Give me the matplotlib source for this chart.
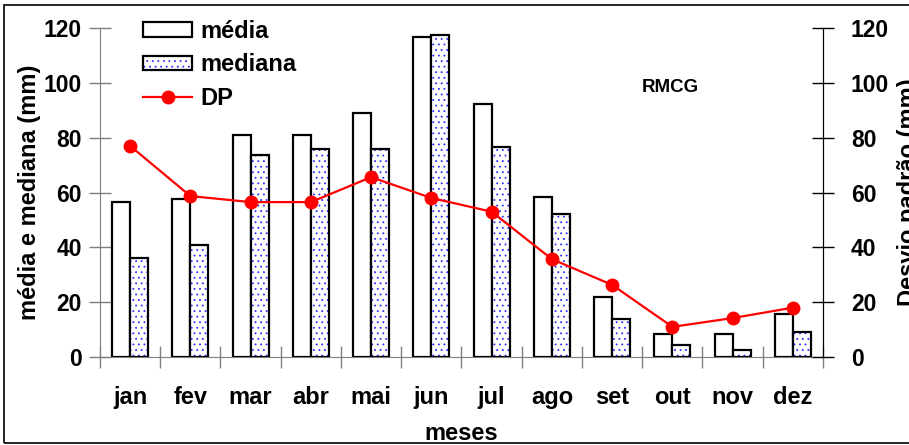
import numpy as np
import matplotlib.pyplot as plt
from matplotlib.patches import Patch, Rectangle
from matplotlib.lines import Line2D
from matplotlib.legend_handler import HandlerTuple

plt.rcParams['font.family'] = ['Liberation Sans', 'DejaVu Sans']
plt.rcParams['font.weight'] = 'bold'
plt.rcParams['hatch.linewidth'] = 0.6

# --- dados ---
meses = ['jan', 'fev', 'mar', 'abr', 'mai', 'jun', 'jul', 'ago', 'set', 'out', 'nov', 'dez']
media = [56.5, 57.6, 81, 81, 89, 116.7, 92.3, 58.4, 22, 8.4, 8.4, 15.7]
mediana = [36, 41, 73.7, 76, 76, 117.4, 76.6, 52, 14, 4.4, 2.5, 9]
dp = [77, 58.7, 56.5, 56.5, 65.6, 58, 53, 35.7, 26.3, 11, 14.2, 18]

W, H = 909, 445
fig = plt.figure(figsize=(W / 100, H / 100), dpi=100)
ax = fig.add_axes([100 / W, 1 - 357 / H, 723 / W, 329 / H])
ax2 = ax.twinx()

DOT = '#3030ff'
x = np.arange(len(meses))
bw = 0.3
ax.bar(x - bw / 2, media, bw, color='white', edgecolor='black', linewidth=1.6, zorder=2)
ax.bar(x + bw / 2, mediana, bw, color='white', edgecolor=DOT, hatch='...', linewidth=0, zorder=2)
ax.bar(x + bw / 2, mediana, bw, color='none', edgecolor='black', linewidth=1.6, zorder=3)

ax2.plot(x, dp, color='red', lw=1.6, marker='o', ms=9, zorder=4)

ax.set_xlim(-0.5, 11.5)
ax.set_ylim(0, 120)
ax2.set_ylim(0, 120)
ax.set_yticks(np.arange(0, 121, 20))
ax2.set_yticks(np.arange(0, 121, 20))
ax.set_xticks(x)
ax.set_xticklabels(meses)
ax.set_xticks(np.arange(-0.5, 12, 1), minor=True)

for a in (ax, ax2):
    a.spines['top'].set_visible(False)
ax.spines['left'].set_color('#7f7f7f')
ax.spines['bottom'].set_color('#7f7f7f')
ax2.spines['left'].set_visible(False)
ax2.spines['bottom'].set_visible(False)
ax2.spines['right'].set_color('black')

ax.tick_params(axis='y', direction='inout', length=16, width=1, color='#7f7f7f',
               labelsize=16.5, pad=5)
ax2.tick_params(axis='y', direction='inout', length=16, width=1, color='black',
                labelsize=16.5, pad=12)
ax.tick_params(axis='x', which='major', length=0, labelsize=17, pad=21)
ax.tick_params(axis='x', which='minor', direction='inout', length=16, width=1, color='#7f7f7f')

ax.set_ylabel('média e mediana (mm)', fontsize=17, fontweight='bold', labelpad=2)
ax.set_xlabel('meses', fontsize=17, fontweight='bold', labelpad=9)
ax2.set_ylabel('Desvio padrão (mm)', fontsize=17, fontweight='bold')
ax2.yaxis.set_label_coords((897 - 100) / 723, 0.5)

fig.text(670 / W, 1 - 87 / H, 'RMCG', fontsize=13.5, fontweight='bold',
         ha='center', va='center')

ax.set_zorder(ax2.get_zorder() - 1)
ax.patch.set_visible(False)

h_media = Patch(facecolor='white', edgecolor='black', linewidth=1.6)
h_med_fill = Patch(facecolor='white', edgecolor=DOT, hatch='...', linewidth=0)
h_med_edge = Patch(facecolor='none', edgecolor='black', linewidth=1.6)
h_dp = Line2D([], [], color='red', lw=1.6, marker='o', ms=9)
fig.legend([h_media, (h_med_fill, h_med_edge), h_dp], ['média', 'mediana', 'DP'],
           handler_map={tuple: HandlerTuple(ndivide=1, pad=0)},
           loc='upper left', bbox_to_anchor=(131 / W, 1 - 8 / H), frameon=False,
           fontsize=17, borderpad=0, handlelength=2.1, handleheight=0.55,
           labelspacing=0.45, handletextpad=0.35)

fig.add_artist(Rectangle((4 / W, 2 / H), 1.0, 1 - 7 / H, transform=fig.transFigure,
                         fill=False, edgecolor='black', lw=1.2))

fig.savefig('out.png', dpi=100)
